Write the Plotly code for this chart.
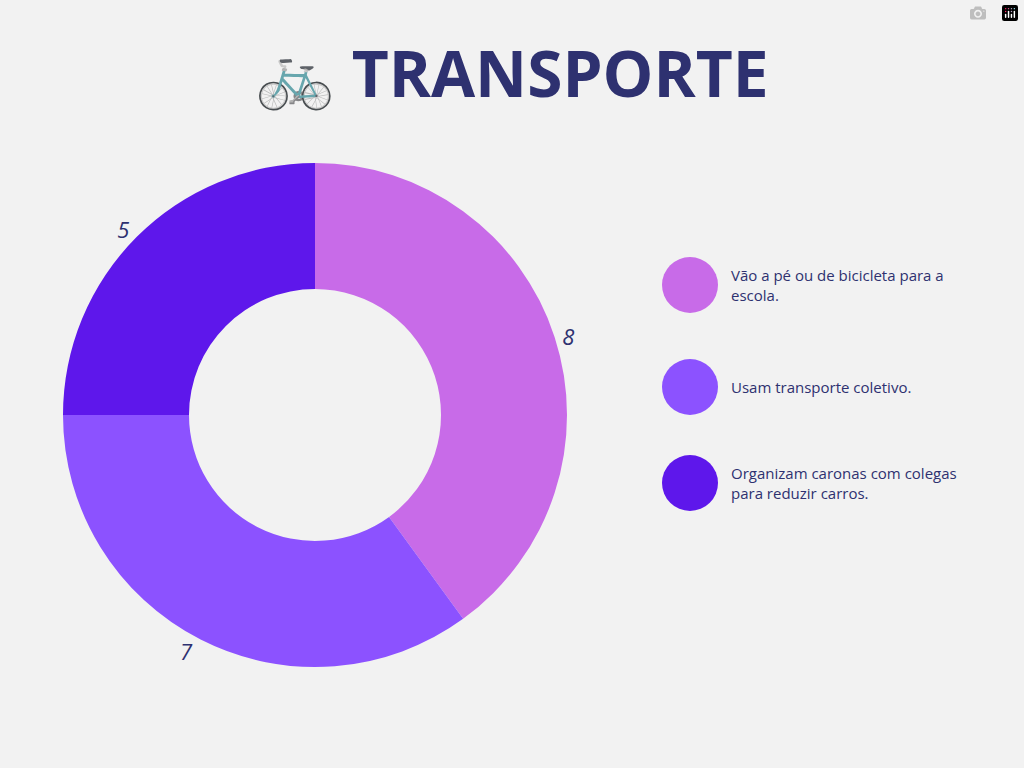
import plotly.graph_objects as go

# Data
labels = ["Vão a pé ou de bicicleta para a<br>escola.",
          "Usam transporte coletivo.",
          "Organizam caronas com colegas<br>para reduzir carros."]
values = [8, 7, 5]
colors = ["#C86BE8", "#8C52FF", "#5E17EB"]

W, H = 1024, 768
text_color = "#2E3170"

fig = go.Figure()
fig.add_trace(go.Pie(
    labels=labels,
    values=values,
    hole=0.5,
    sort=False,
    direction="clockwise",
    rotation=0,
    marker=dict(colors=colors, line=dict(width=0)),
    textinfo="value",
    textposition="outside",
    textfont=dict(family="Open Sans", size=22, color=text_color, style="italic"),
    showlegend=False,
    domain=dict(x=[63 / W, 567 / W], y=[1 - 667 / H, 1 - 163 / H]),
))

# Custom legend with round swatches
legend_y = [285, 387, 483]
for lab, col, yy in zip(labels, colors, legend_y):
    fig.add_shape(type="circle", xref="paper", yref="paper",
                  x0=662 / W, x1=718 / W, y0=1 - (yy + 28) / H, y1=1 - (yy - 28) / H,
                  fillcolor=col, line=dict(width=0))
    fig.add_annotation(x=729 / W, y=1 - yy / H, xref="paper", yref="paper",
                       text=lab, showarrow=False, xanchor="left", yanchor="middle",
                       align="left",
                       font=dict(family="Open Sans", size=15, color=text_color))

fig.add_annotation(x=0.5, y=1 - 72 / H, xref="paper", yref="paper",
                   text="🚲 <b>TRANSPORTE</b>", showarrow=False,
                   xanchor="center", yanchor="middle",
                   font=dict(family="Open Sans", size=64, color=text_color))

fig.update_layout(
    width=W, height=H,
    margin=dict(l=0, r=0, t=0, b=0),
    paper_bgcolor="#F2F2F2",
    plot_bgcolor="#F2F2F2",
)

fig.write_html("out.html",
               post_script="document.body.style.margin='0';document.body.style.background='#F2F2F2';")
